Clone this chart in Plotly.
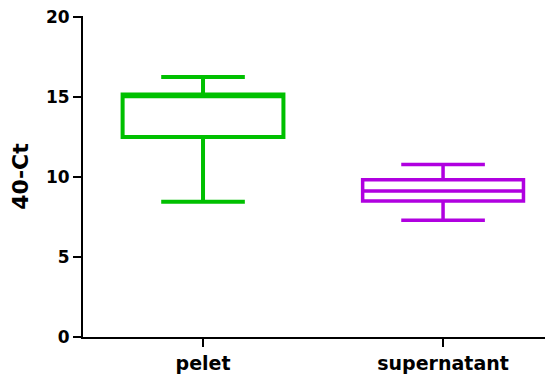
import plotly.graph_objects as go

# sample groups and box statistics
groups = ["pelet", "supernatant"]
lower = [8.45, 7.3]
q1 = [12.5, 8.5]
median = [15.05, 9.12]
q3 = [15.15, 9.83]
upper = [16.25, 10.78]
colors = ["#00C000", "#B000E0"]
line_w = [4, 3.5]

y_ticks = [0, 5, 10, 15, 20]

fig = go.Figure()
for i, g in enumerate(groups):
    fig.add_trace(go.Box(
        x=[g], q1=[q1[i]], median=[median[i]], q3=[q3[i]],
        lowerfence=[lower[i]], upperfence=[upper[i]],
        width=0.67, whiskerwidth=0.52,
        fillcolor="rgba(0,0,0,0)",
        line=dict(color=colors[i], width=line_w[i]),
        boxpoints=False, showlegend=False, hoverinfo="skip",
    ))

fnt = "DejaVu Sans"

# page body adds an 8px offset, so the figure is sized 8px smaller
fig.update_layout(
    width=545, height=371,
    margin=dict(l=75, r=0, t=8, b=42),
    plot_bgcolor="white", paper_bgcolor="white",
    font=dict(family=fnt, color="black"),
    xaxis=dict(
        type="category", range=[-0.5, 1.458], automargin=False,
        showline=True, linecolor="black", linewidth=2,
        ticks="outside", ticklen=8, tickwidth=2, tickcolor="black",
        tickfont=dict(family=fnt, size=19, color="black", weight="bold"),
        showgrid=False, zeroline=False,
    ),
    yaxis=dict(
        range=[0, 20.06], tickvals=y_ticks, automargin=False,
        ticklabeloverflow="allow",
        showline=True, linecolor="black", linewidth=2,
        ticks="outside", ticklen=8, tickwidth=2, tickcolor="black",
        tickfont=dict(family=fnt, size=17, color="black", weight="bold"),
        title=dict(text="40-Ct", standoff=13,
                   font=dict(family=fnt, size=22, color="black", weight="bold")),
        showgrid=False, zeroline=False,
    ),
)

fig.write_html("out.html")
